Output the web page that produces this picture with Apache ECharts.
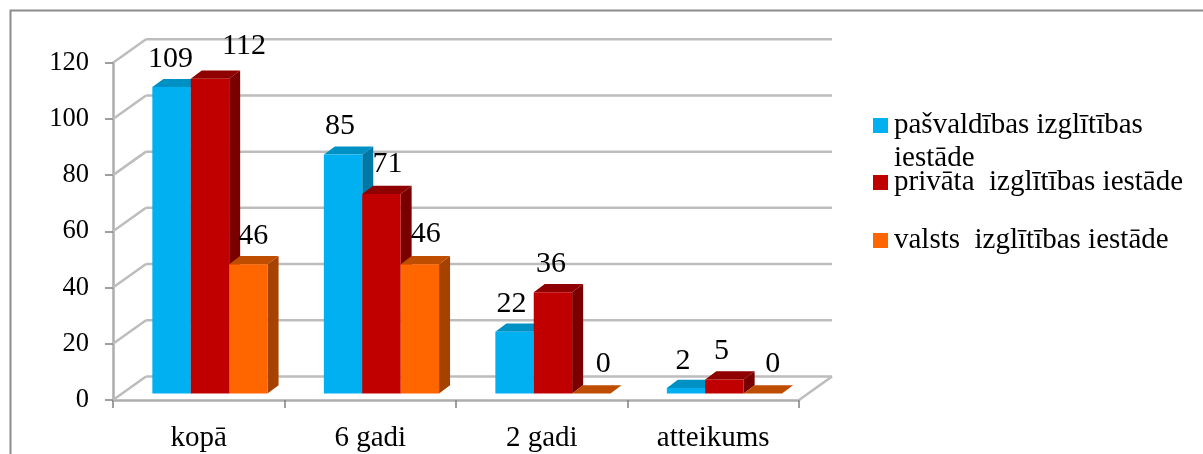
<!DOCTYPE html>
<html><head><meta charset="utf-8">
<style>html,body{margin:0;padding:0;background:#fff}#c{width:1203px;height:454px}</style>
<script src="https://cdn.jsdelivr.net/npm/echarts@6/dist/echarts.min.js"></script>
</head><body><div id="c"></div>
<script>
const categories = ['kopā', '6 gadi', '2 gadi', 'atteikums'];
const seriesNames = ['pašvaldības izglītības iestāde', 'privāta  izglītības iestāde', 'valsts  izglītības iestāde'];
const municipal = [109, 85, 22, 2];
const privateInst = [112, 71, 36, 5];
const stateInst = [46, 46, 0, 0];
const yTicks = [0, 20, 40, 60, 80, 100, 120];

// 3D look and manually placed labels (styling, not data)
const faces = [
  {front: '#00B0F0', top: '#0091C4', side: '#0078A6'},
  {front: '#C00000', top: '#8F0000', side: '#7A0000'},
  {front: '#FF6600', top: '#BF4D00', side: '#A64200'}
];
const labelDx = [[-1, -3, -3, -3], [34, 6, -2, -3], [5, 6, 12, 10]];
const labelDy = [[-28, -28, -28, -27], [-33, -30, -28, -28], [-28, -30, -29, -29]];
const wall = {dx: 33, dy: 23.5, color: '#BDBDBD', w: 2.5};
const bar = {w: 38.4, dx: 11, dy: 8.2, shiftX: 11.2, shiftY: -6.5};
const FONT = '"Liberation Serif", serif';

function wallItem(params, api) {
  const cs = params.coordSys, v = api.value(1);
  const y = api.coord([0, v])[1], l = cs.x, r = cs.x + cs.width;
  const ls = {stroke: wall.color, lineWidth: wall.w, fill: null};
  const kids = [
    {type: 'line', shape: {x1: l, y1: y, x2: l + wall.dx, y2: y - wall.dy}, style: ls},
    {type: 'line', shape: {x1: l + wall.dx, y1: y - wall.dy, x2: r + wall.dx, y2: y - wall.dy}, style: ls}
  ];
  if (v === 0) kids.push({type: 'line', shape: {x1: r, y1: y, x2: r + wall.dx, y2: y - wall.dy}, style: ls});
  return {type: 'group', children: kids};
}

function barItem(s) {
  return function (params, api) {
    const c = api.value(0), v = api.value(1), f = faces[s];
    const cx = api.coord([c, 0])[0] + bar.shiftX + (s - 1) * bar.w;
    const x0 = cx - bar.w / 2, x1 = cx + bar.w / 2;
    const yb = api.coord([c, 0])[1] + bar.shiftY, yt = api.coord([c, v])[1] + bar.shiftY;
    const d = bar.dx, e = bar.dy;
    return {type: 'group', children: [
      {type: 'polygon', shape: {points: [[x1, yt], [x1 + d, yt - e], [x1 + d, yb - e], [x1, yb]]}, style: {fill: f.side}},
      {type: 'polygon', shape: {points: [[x0, yt], [x0 + d, yt - e], [x1 + d, yt - e], [x1, yt]]}, style: {fill: f.top}},
      {type: 'rect', shape: {x: x0, y: yt, width: bar.w, height: yb - yt}, style: {fill: f.front}},
      {type: 'text', z2: 100, style: {text: String(v), x: cx + labelDx[s][c], y: yt + labelDy[s][c],
        align: 'center', verticalAlign: 'middle', fill: '#000', fontFamily: FONT, fontSize: 30}}
    ]};
  };
}

const chart = echarts.init(document.getElementById('c'), null, {renderer: 'canvas'});
const legendAt = [111, 168, 226];
chart.setOption({
  animation: false,
  backgroundColor: '#fff',
  grid: {left: 113, right: 404, top: 62.7, bottom: 54},
  xAxis: {type: 'category', data: categories,
    axisLine: {lineStyle: {color: '#ADADAD', width: 2.5}},
    axisTick: {show: true, length: 8, lineStyle: {color: '#808080', width: 1.5}},
    axisLabel: {color: '#000', fontFamily: FONT, fontSize: 29, margin: 24},
    splitLine: {show: false}},
  yAxis: {type: 'value', min: 0, max: 120, interval: 20,
    axisLine: {show: true, lineStyle: {color: '#ADADAD', width: 2.5}},
    axisTick: {show: true, length: 8, lineStyle: {color: '#808080', width: 1.5}},
    axisLabel: {color: '#000', fontFamily: FONT, fontSize: 26.5, margin: 24},
    splitLine: {show: false}},
  legend: seriesNames.map((n, i) => ({
    data: [n], left: 873, top: legendAt[i], orient: 'vertical', padding: 0,
    icon: 'rect', itemWidth: 15, itemHeight: 15, itemGap: 0,
    selectedMode: false,
    formatter: i === 0 ? () => 'pašvaldības izglītības' : undefined,
    textStyle: {color: '#000', fontFamily: FONT, fontSize: 29, padding: [0, 0, 0, 1]}
  })),
  graphic: [
    {type: 'polyline', silent: true, shape: {points: [[10.5, 454], [10.5, 10.5], [1203, 10.5]]},
      style: {stroke: '#8C8C8C', lineWidth: 2, fill: null}},
    {type: 'text', silent: true, left: 894, top: 144,
      style: {text: 'iestāde', fill: '#000', fontFamily: FONT, fontSize: 29}}
  ],
  series: [
    {type: 'custom', name: 'walls', z: 1, silent: true, renderItem: wallItem,
      encode: {x: 0, y: 1}, data: yTicks.map(t => [0, t])},
    ...[municipal, privateInst, stateInst].map((vals, s) => ({
      type: 'custom', name: seriesNames[s], z: 3, renderItem: barItem(s),
      itemStyle: {color: faces[s].front},
      encode: {x: 0, y: 1}, data: vals.map((v, c) => [c, v])
    }))
  ]
});
</script></body></html>
